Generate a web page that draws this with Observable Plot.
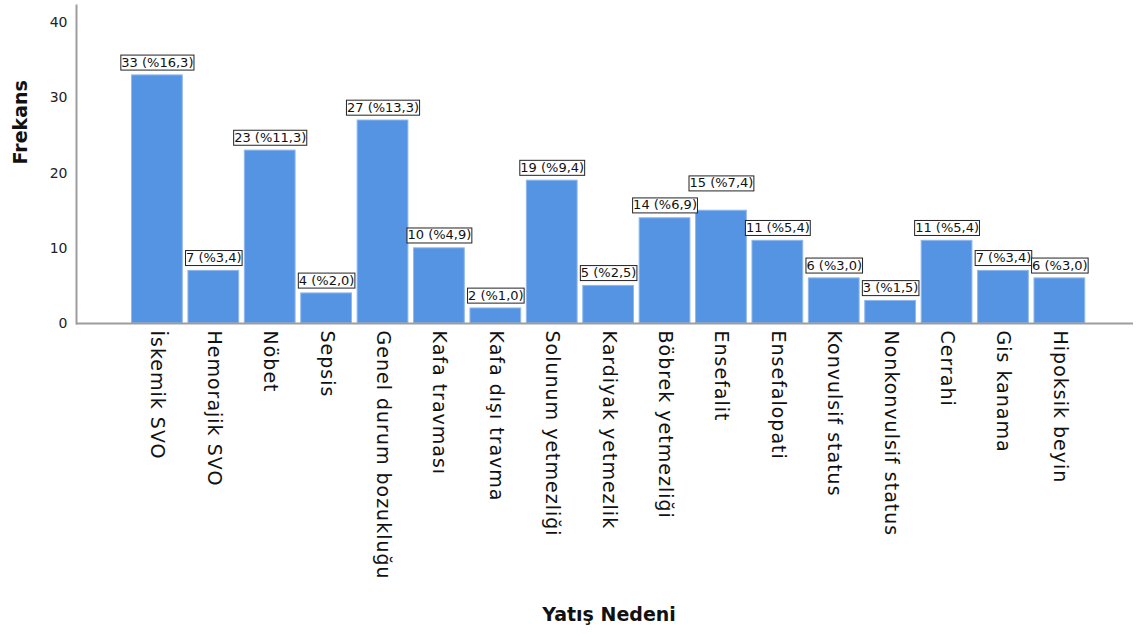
<!DOCTYPE html>
<html>
<head>
<meta charset="utf-8">
<script src="https://cdn.jsdelivr.net/npm/d3@7"></script>
<script src="https://cdn.jsdelivr.net/npm/@observablehq/plot@0.6"></script>
<style>
  html, body { margin: 0; padding: 0; background: #fff; }
  #chart svg { display: block; }
</style>
</head>
<body>
<div id="chart"></div>
<script>
const categories = [
  "İskemik SVO", "Hemorajik SVO", "Nöbet", "Sepsis", "Genel durum bozukluğu",
  "Kafa travması", "Kafa dışı travma", "Solunum yetmezliği", "Kardiyak yetmezlik",
  "Böbrek yetmezliği", "Ensefalit", "Ensefalopati", "Konvulsif status",
  "Nonkonvulsif status", "Cerrahi", "Gis kanama", "Hipoksik beyin"
];
const counts = [33, 7, 23, 4, 27, 10, 2, 19, 5, 14, 15, 11, 6, 3, 11, 7, 6];
const percents = [16.3, 3.4, 11.3, 2.0, 13.3, 4.9, 1.0, 9.4, 2.5, 6.9, 7.4, 5.4, 3.0, 1.5, 5.4, 3.4, 3.0];
const yTicks = [0, 10, 20, 30, 40];
const yTitle = "Frekans";
const xTitle = "Yatış Nedeni";

const data = categories.map((c, i) => ({
  cat: c,
  n: counts[i],
  label: `${counts[i]} (%${percents[i].toFixed(1).replace(".", ",")})`
}));

const axisColor = "#9d9d9d";

const chart = Plot.plot({
  width: 1137,
  height: 637,
  marginLeft: 76,
  marginRight: 4,
  marginTop: 5,
  marginBottom: 314,
  style: { fontFamily: "DejaVu Sans, sans-serif", background: "#fff" },
  x: { domain: categories, paddingInner: 0.1, paddingOuter: 0.92, align: 0.535, round: false, label: null },
  y: { domain: [0, 42.3], label: null },
  marks: [
    Plot.barY(data, { x: "cat", y: "n", fill: "#5594e2", stroke: "#8fb8ee", strokeWidth: 1 }),
    Plot.ruleY([0], { stroke: axisColor, strokeWidth: 2 }),
    Plot.frame({ anchor: "left", stroke: axisColor, strokeWidth: 2 }),
    Plot.axisY({ ticks: yTicks, tickSize: 0, tickPadding: 9, fontSize: 14, fill: "#222", label: null }),
    Plot.axisX({ tickSize: 0, tickPadding: 7, tickRotate: 90, fontSize: 19, fill: "#111", label: null,
      className: "xticks" }),
    Plot.text(data, { x: "cat", y: "n", text: "label", dy: -13, lineAnchor: "middle",
      fontSize: 13, fill: "#111", className: "vlab" }),
    Plot.text([yTitle], { text: d => d, frameAnchor: "left", dx: -56, rotate: -90,
      fontSize: 19, fontWeight: "bold", fill: "#111" }),
    Plot.text([xTitle], { text: d => d, frameAnchor: "bottom", dx: 4, dy: 297,
      fontSize: 19, fontWeight: "bold", fill: "#111" })
  ]
});

document.getElementById("chart").appendChild(chart);

// letter spacing on rotated category labels
chart.querySelectorAll(".xticks text").forEach(t => t.setAttribute("letter-spacing", "1"));

// boxed value labels (screen coordinates), lifted when overlapping the previous box
const svgNS = "http://www.w3.org/2000/svg";
const vlabG = chart.querySelector("g.vlab");
const boxG = document.createElementNS(svgNS, "g");
vlabG.parentNode.insertBefore(boxG, vlabG);
const sr = chart.getBoundingClientRect();
const measure = t => {
  const r = t.getBoundingClientRect();
  return { x: r.left - sr.left - 0.5, y: r.top - sr.top + 0.5, w: r.width + 1, h: r.height };
};
let prev = null;
vlabG.querySelectorAll("text").forEach(t => {
  let box = measure(t);
  if (prev && box.x < prev.x + prev.w - 3 && box.y < prev.y + prev.h && box.y + box.h > prev.y) {
    const shift = (box.y + box.h) - (prev.y - 7);
    t.setAttribute("transform", (t.getAttribute("transform") || "") + ` translate(0,${-shift})`);
    box = measure(t);
  }
  const r = document.createElementNS(svgNS, "rect");
  r.setAttribute("x", box.x);
  r.setAttribute("y", box.y);
  r.setAttribute("width", box.w);
  r.setAttribute("height", box.h);
  r.setAttribute("fill", "#fff");
  r.setAttribute("stroke", "#222");
  r.setAttribute("stroke-width", "1");
  boxG.appendChild(r);
  prev = box;
});
</script>
</body>
</html>
